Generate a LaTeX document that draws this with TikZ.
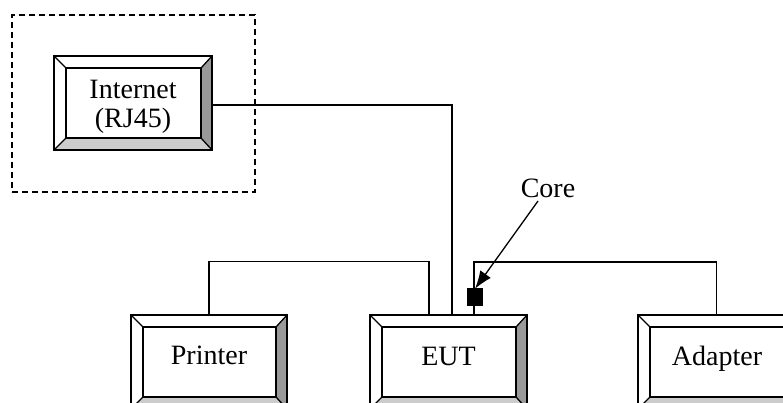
\documentclass[tikz,border=0pt]{standalone}
\usepackage{fontspec}
\setmainfont{Liberation Serif}
\usetikzlibrary{arrows.meta}
\definecolor{bevdark}{HTML}{999999}
\definecolor{bevlight}{HTML}{CCCCCC}
\tikzset{
  bx/.style={draw=none, fill=white, inner sep=0pt, rectangle},
  lbl/.style={inner sep=0pt, font=\fontsize{28}{29}\selectfont},
  wire/.style={line width=1.3pt, line join=miter},
  zone/.style={draw, dashed, dash pattern=on 6pt off 4pt, line width=1.6pt, inner sep=0pt, rectangle},
}
\newcommand{\bevbox}[5]{%
  \node[bx, minimum width=#4pt, minimum height=#5pt] (#1) at (#2,#3) {};
  \coordinate (#1-ine) at ([shift={(-11,12)}]#1.north east);
  \coordinate (#1-inw) at ([shift={(12,12)}]#1.north west);
  \coordinate (#1-ise) at ([shift={(-11,-12)}]#1.south east);
  \coordinate (#1-isw) at ([shift={(12,-12)}]#1.south west);
  \fill[bevdark] (#1.north east) -- (#1.south east) -- (#1-ise) -- (#1-ine) -- cycle;
  \fill[bevlight] (#1.south west) -- (#1.south east) -- (#1-ise) -- (#1-isw) -- cycle;
  \draw[line width=1.8pt] (#1-inw) rectangle (#1-ise);
  \draw[line width=1.3pt] (#1.north west) -- (#1-inw) (#1.north east) -- (#1-ine)
     (#1.south west) -- (#1-isw) (#1.south east) -- (#1-ise);
  \draw[line width=2pt] (#1.north west) rectangle (#1.south east);
}
\begin{document}
\begin{tikzpicture}[x=1pt,y=-1pt]
\useasboundingbox (0,0) rectangle (783,403);
\clip (0,0) rectangle (783,403);
\fill[white] (0,0) rectangle (783,403);

\node[zone, minimum width=243pt, minimum height=177pt] (lan) at (133.5,103.5) {};

% connector end points on the EUT
\coordinate (eutP) at (429,315);
\coordinate (eutI) at (452,315);
\coordinate (eutA) at (474,315);

\bevbox{inet}{133}{103}{158}{94}
\bevbox{prn}{209}{362}{156}{94}
\bevbox{eut}{448.5}{362}{157}{94}
\bevbox{adp}{716.5}{362}{157}{94}

\draw[wire] (inet.east |- 0,105) -| (eutI);
\draw[wire] (prn.north) -- ++(0,-53) -| (eutP);
\draw[wire] (eutA) -- ++(0,-53) -| (adp.north);

\node[lbl, anchor=base] (tinet1) at (133,99) {Internet};
\node[lbl, anchor=base] (tinet2) at (133,128) {(RJ45)};
\node[lbl, anchor=base] (tprn) at (209,364) {Printer};
\node[lbl, anchor=base] (teut) at (448.5,365) {EUT};
\node[lbl, anchor=base] (tadp) at (717,365) {Adapter};

\node[fill=black, minimum width=16pt, minimum height=18pt, inner sep=0pt] (sq) at (475,297) {};
\node[lbl, anchor=base] (core) at (548,197) {Core};
\coordinate (coretail) at (538,201);
\draw[line width=1.3pt, -{Latex[length=18pt,width=13pt]}] (coretail) -- ([yshift=-1pt]sq.north);
\end{tikzpicture}
\end{document}
